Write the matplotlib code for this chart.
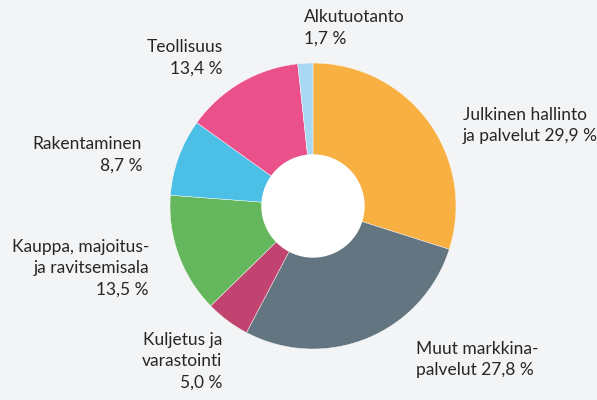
import matplotlib
matplotlib.use("Agg")
import matplotlib.pyplot as plt

# toimialat (clockwise from top)
labels = ["Julkinen hallinto", "Muut markkinapalvelut", "Kuljetus ja varastointi",
          "Kauppa, majoitus- ja ravitsemisala", "Rakentaminen", "Teollisuus", "Alkutuotanto"]
shares = [29.9, 27.8, 5.0, 13.5, 8.7, 13.4, 1.7]
colors = ["#F9B042", "#627580", "#C0446F", "#64B75C", "#4BBFE6", "#EA518B", "#A9D9F2"]

label_texts = ["Julkinen hallinto\nja palvelut 29,9 %",
               "Muut markkina-\npalvelut 27,8 %",
               "Kuljetus ja\nvarastointi\n5,0 %",
               "Kauppa, majoitus-\nja ravitsemisala\n13,5 %",
               "Rakentaminen\n8,7 %",
               "Teollisuus\n13,4 %",
               "Alkutuotanto\n1,7 %"]

plt.rcParams['font.family'] = ['Lato', 'DejaVu Sans']
bg = "#F3F4F6"

fig = plt.figure(figsize=(5.97, 4.0), dpi=100, facecolor=bg)
ax = fig.add_axes([0, 0, 1, 1])
ax.set_facecolor(bg)

cx, cy, r = 313, 400 - 206, 143
ax.pie(shares, colors=colors, startangle=90, counterclock=False,
       center=(cx, cy), radius=r, frame=True,
       wedgeprops=dict(edgecolor="white", linewidth=0.3))
ax.add_patch(plt.Circle((cx, cy), 51, color="white", zorder=5))
ax.set_xlim(0, 597)
ax.set_ylim(0, 400)
ax.axis("off")

# label anchor points: (x, y of first line top, alignment)
pos = [(463, 107, "left"), (416, 341, "left"), (222, 332, "right"),
       (149, 239, "right"), (142, 136, "right"), (223, 39, "right"),
       (304, 9, "left")]
for txt, (x, y, ha) in zip(label_texts, pos):
    ax.text(x, 400 - y, txt, ha=ha, va="top", fontsize=12.5, color="#262626",
            multialignment=ha, linespacing=1.42)

fig.savefig("out.png", dpi=100, facecolor=bg)
